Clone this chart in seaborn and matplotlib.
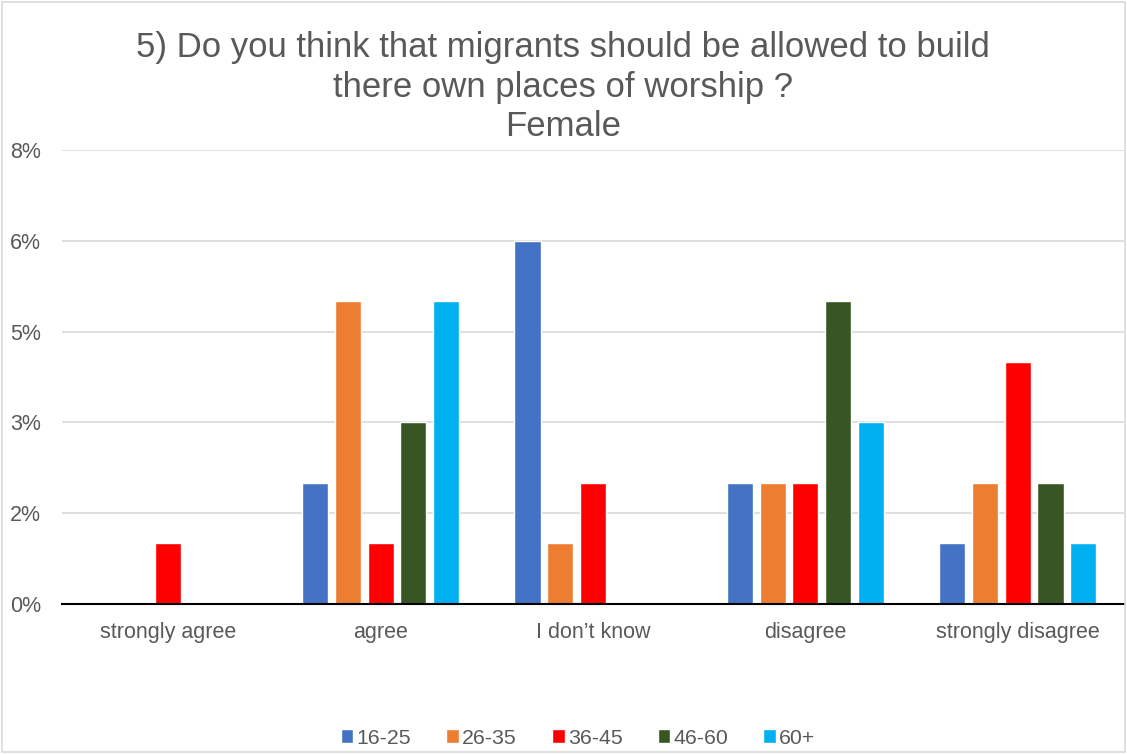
import matplotlib
matplotlib.use("Agg")
import matplotlib.pyplot as plt
import seaborn as sns
import pandas as pd
from matplotlib.patches import Rectangle

categories = ["strongly agree", "agree", "I don\u2019t know", "disagree", "strongly disagree"]
groups = ["16-25", "26-35", "36-45", "46-60", "60+"]
v_16_25 = [0, 2, 6, 2, 1]
v_26_35 = [0, 5, 1, 2, 2]
v_36_45 = [1, 1, 2, 2, 4]
v_46_60 = [0, 3, 0, 5, 2]
v_60p = [0, 5, 0, 3, 1]
colors = ["#4472C4", "#ED7D31", "#FF0000", "#375623", "#00B0F0"]
tick_vals = [0, 1.5, 3, 4.5, 6, 7.5]
tick_labels = ["0%", "2%", "3%", "5%", "6%", "8%"]

rows = []
for g, vals in zip(groups, [v_16_25, v_26_35, v_36_45, v_46_60, v_60p]):
    for c, v in zip(categories, vals):
        rows.append({"category": c, "group": g, "value": v})
df = pd.DataFrame(rows)

sns.set_style("white")
plt.rcParams["font.family"] = ["Liberation Sans", "DejaVu Sans"]

fig = plt.figure(figsize=(11.27, 7.54), dpi=100)
ax = fig.add_axes([62/1127, 1-604/754, (1124-62)/1127, (604-150)/754])

sns.barplot(data=df, x="category", y="value", hue="group", order=categories,
            hue_order=groups, palette=colors, width=0.77, gap=0.2,
            saturation=1, ax=ax, legend=True)

ax.set_xlim(-0.5, 4.5)
ax.set_ylim(0, 7.5)
ax.set_yticks(tick_vals)
ax.set_yticklabels(tick_labels)
ax.yaxis.grid(True, color="#D9D9D9", linewidth=1.2)
ax.set_axisbelow(True)
for s in ["top", "right", "left"]:
    ax.spines[s].set_visible(False)
ax.spines["bottom"].set_color("black")
ax.spines["bottom"].set_linewidth(1.5)
ax.tick_params(axis="both", length=0, labelsize=15.5, colors="#595959")
ax.tick_params(axis="x", pad=13)
ax.tick_params(axis="y", pad=15)
ax.set_xlabel("")
ax.set_ylabel("")

fig.suptitle("5) Do you think that migrants should be allowed to build\nthere own places of worship ?\nFemale",
             x=563/1127, y=1-31/754, fontsize=25, color="#595959", va="top", linespacing=1.25)

handles, labels = ax.get_legend_handles_labels()
ax.legend_.remove()
fig.legend(handles, labels, loc="center", bbox_to_anchor=(578/1127, 1-738/754), ncol=5,
           frameon=False, fontsize=15.3, labelcolor="#595959", handlelength=0.6, handleheight=0.6,
           handletextpad=0.15, columnspacing=1.65)

fig.add_artist(Rectangle((0.002, 0.002), 0.996, 0.996, transform=fig.transFigure,
                         fill=False, edgecolor="#D9D9D9", linewidth=1.2))

fig.savefig("out.png", dpi=100)
